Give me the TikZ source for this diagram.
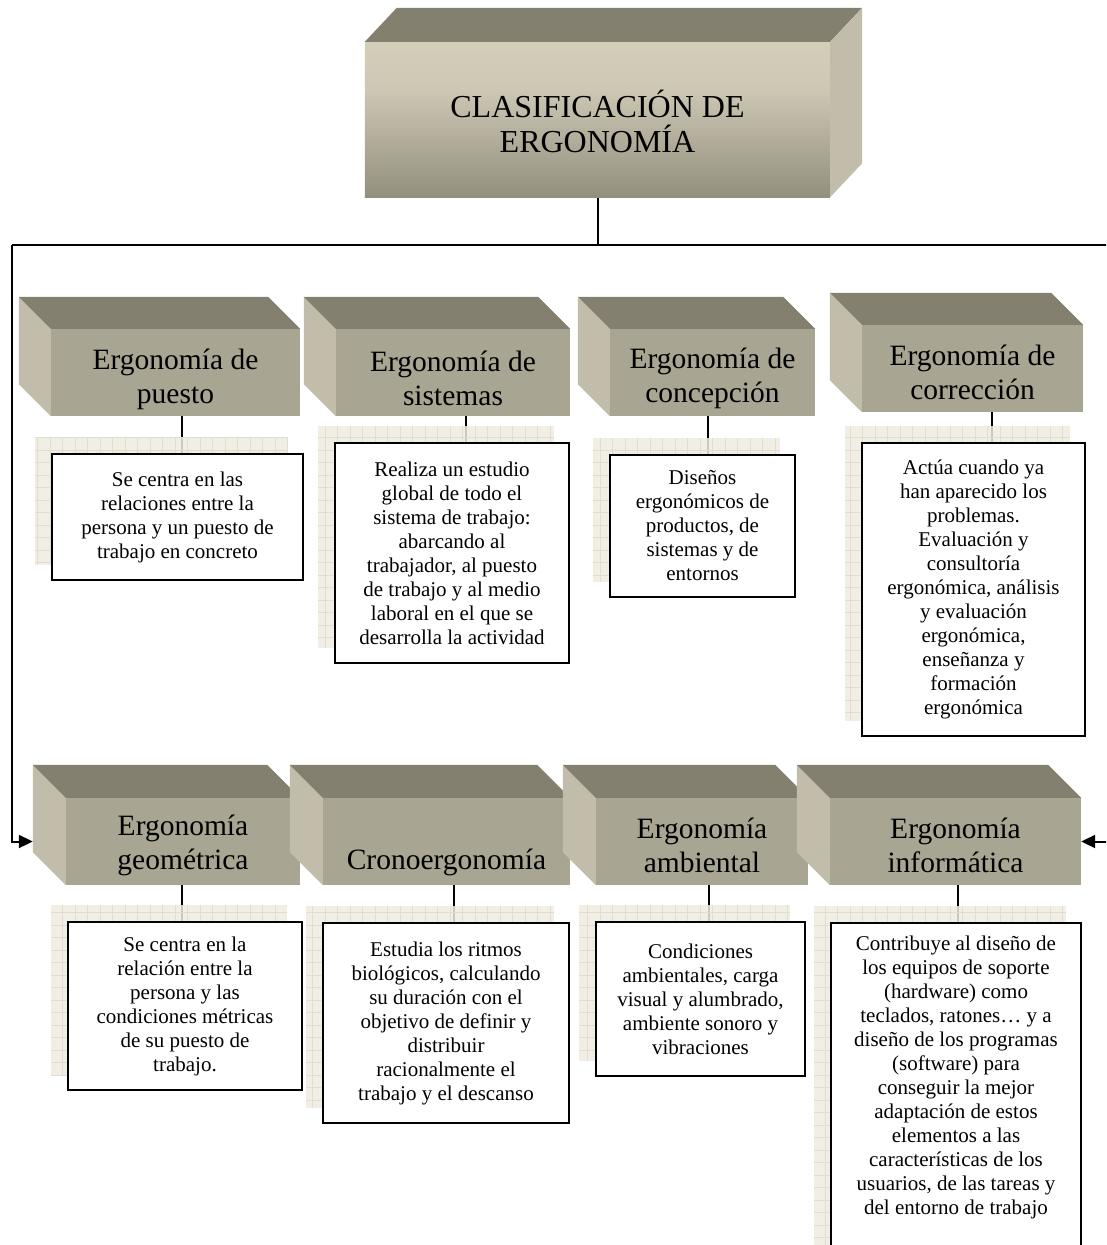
\documentclass[tikz,border=0pt]{standalone}
\usepackage{fontspec}
\setmainfont{Liberation Serif}
\usetikzlibrary{arrows.meta}

% palette
\definecolor{topface}{RGB}{131,128,112}
\definecolor{sideface}{RGB}{194,189,170}
\definecolor{frontface}{RGB}{168,165,147}
\definecolor{gridbg}{RGB}{238,236,225}
\definecolor{gridln}{RGB}{226,222,207}
\definecolor{hdark}{RGB}{104,101,88}
\definecolor{hmid}{RGB}{152,148,130}
\definecolor{hlite}{RGB}{205,200,180}
\definecolor{htop}{RGB}{223,217,197}

% front face of the heading block: dark at the bottom, light at the top
\pgfdeclareverticalshading{headface}{100bp}{%
  color(0bp)=(hdark); color(28bp)=(hmid); color(60bp)=(hlite); color(100bp)=(htop)}

\pgfdeclarelayer{links}
\pgfdeclarelayer{grids}
\pgfsetlayers{links,grids,main}

\tikzset{
  catface/.style={fill=frontface, inner sep=0pt},
  cattext/.style={inner sep=0pt, align=center,
    font=\fontsize{29.5}{34}\selectfont},
  descnode/.style={draw=black, line width=2pt, fill=white, inner sep=0pt,
    align=center, font=\fontsize{21}{24}\selectfont},
  desctext/.style={inner sep=0pt, align=center, font=\fontsize{21}{24}\selectfont},
  conn/.style={line width=2pt, draw=black},
  gridshadow/.style={fill=gridbg, fill opacity=0.85},
  gridlines/.style={draw=gridln, line width=0.8pt},
}

% block with its depth drawn up and to the left
% #1 name, #2 cx, #3 cy, #4 width, #5 depth, #6 text drop, #7 text
\newcommand\catbox[7]{%
  \node[catface, minimum width=#4pt, minimum height=87pt] (#1) at (#2,#3) {};
  \fill[sideface] (#1.north west) -- ++(-#5,-#5)
      -- ([shift={(-#5,-#5)}]#1.south west) -- (#1.south west) -- cycle;
  \fill[topface] (#1.north west) -- ++(-#5,-#5)
      -- ([shift={(-#5,-#5)}]#1.north east) -- (#1.north east) -- cycle;
  \node[cattext] (#1t) at ([shift={(0,#6)}]#1.center) {#7};
}

% squared backdrop behind a text box
\newcommand\backdrop[1]{%
  \begin{pgfonlayer}{grids}
    \fill[gridshadow] ([shift={(-16,-16)}]#1.north west)
        rectangle ([shift={(-16,-16)}]#1.south east);
    \begin{scope}
      \clip ([shift={(-16,-16)}]#1.north west)
        rectangle ([shift={(-16,-16)}]#1.south east);
      \draw[gridlines, step=12.5pt] ([shift={(-16,-16)}]#1.north west)
        grid ([shift={(-16,-16)}]#1.south east);
    \end{scope}
  \end{pgfonlayer}
}

% text box: #1 name, #2 cx, #3 cy, #4 width, #5 height, #6 text
\newcommand\descbox[6]{%
  \node[descnode, minimum width=#4pt, minimum height=#5pt] (#1) at (#2,#3) {#6};
  \backdrop{#1}
}

\begin{document}
\begin{tikzpicture}[x=1pt,y=-1pt]
\useasboundingbox (0,0) rectangle (1106,1245);
\clip (0,0) rectangle (1106,1245);

% heading block, depth up and to the right
\node[inner sep=0pt, minimum width=465pt, minimum height=155pt] (t) at (597.5,119.5) {};
\shade[shading=headface] (t.north west) rectangle (t.south east);
\fill[topface] (t.north west) -- ++(32,-34) -- ([shift={(32,-34)}]t.north east)
    -- (t.north east) -- cycle;
\fill[sideface] (t.north east) -- ++(32,-34) -- ([shift={(32,-34)}]t.south east)
    -- (t.south east) -- cycle;
\node[align=center, font=\fontsize{32}{35}\selectfont] (tt) at ([shift={(0,2)}]t.center)
    {CLASIFICACIÓN DE\\ERGONOMÍA};

% first row of blocks
\catbox{b1}{175.5}{372.5}{249}{32}{7}{Ergonomía de\\puesto}
\catbox{b2}{453}{372.5}{234}{32}{6}{Ergonomía de\\sistemas}
\catbox{b3}{712.5}{372.5}{205}{32}{6}{Ergonomía de\\concepción}
\catbox{b4}{972.5}{368.5}{221}{32}{4}{Ergonomía de\\corrección}

% second row of blocks
\catbox{b5}{183}{841.5}{234}{33}{4}{Ergonomía\\geométrica}
\catbox{b6}{446.5}{841.5}{247}{33}{21}{Cronoergonomía}
\catbox{b7}{702}{841.5}{212}{33}{4}{Ergonomía\\ambiental}
\catbox{b8}{955.5}{841.5}{251}{33}{4}{Ergonomía\\informática}

% descriptions, first row
\descbox{d1}{177.5}{517}{251}{126}{Se centra en las\\relaciones entre la\\persona y un puesto de\\trabajo en concreto}
\descbox{d2}{452}{553}{234}{220}{Realiza un estudio\\global de todo el\\sistema de trabajo:\\abarcando al\\trabajador, al puesto\\de trabajo y al medio\\laboral en el que se\\desarrolla la actividad}
\descbox{d3}{702.5}{526}{185}{142}{Diseños\\ergonómicos de\\productos, de\\sistemas y de\\entornos}
\descbox{d4}{973.5}{589.5}{223}{293}{Actúa cuando ya\\han aparecido los\\problemas.\\Evaluación y\\consultoría\\ergonómica, análisis\\y evaluación\\ergonómica,\\enseñanza y\\formación\\ergonómica}

% descriptions, second row
\descbox{d5}{185}{1006}{234}{168}{Se centra en la\\relación entre la\\persona y las\\condiciones métricas\\de su puesto de\\trabajo.}
\descbox{d6}{446}{1023}{246}{200}{Estudia los ritmos\\biológicos, calculando\\su duración con el\\objetivo de definir y\\distribuir\\racionalmente el\\trabajo y el descanso}
\descbox{d7}{700.5}{999}{209}{154}{Condiciones\\ambientales, carga\\visual y alumbrado,\\ambiente sonoro y\\vibraciones}
% the last box runs past the lower edge; its text hangs from the top
\node[descnode, minimum width=250pt, minimum height=340pt] (d8) at (956,1093) {};
\backdrop{d8}
\node[desctext, anchor=north] (d8t) at ([shift={(0,14)}]d8.north)
  {Contribuye al diseño de\\los equipos de soporte\\(hardware) como\\teclados, ratones… y a\\diseño de los programas\\(software) para\\conseguir la mejor\\adaptación de estos\\elementos a las\\características de los\\usuarios, de las tareas y\\del entorno de trabajo};

% connectors
\begin{pgfonlayer}{links}
  \begin{scope}
    \clip (0,0) rectangle (1106,1245);
    \coordinate (jl) at (12,245);
    \coordinate (jr) at (1108,245);
    \draw[conn] (t.south) -- (t.south |- jl);
    \draw[conn] (jl) -- (jr);
    \draw[conn, -{Triangle[length=14pt,width=13pt]}] (jl) |- ([xshift=-33pt]b5.west);
    \draw[conn, -{Triangle[length=14pt,width=13pt]}] (jr) |- (b8.east);
    \draw[conn] ([xshift=6.5pt]b1.south) -- ([xshift=6.5pt]b1.south |- d1.north);
    \draw[conn] ([xshift=13pt]b2.south) -- ([xshift=13pt]b2.south |- d2.north);
    \draw[conn] ([xshift=-4.5pt]b3.south) -- ([xshift=-4.5pt]b3.south |- d3.north);
    \draw[conn] ([xshift=19.5pt]b4.south) -- ([xshift=19.5pt]b4.south |- d4.north);
    \draw[conn] ([xshift=-1pt]b5.south) -- ([xshift=-1pt]b5.south |- d5.north);
    \draw[conn] ([xshift=7.5pt]b6.south) -- ([xshift=7.5pt]b6.south |- d6.north);
    \draw[conn] ([xshift=7pt]b7.south) -- ([xshift=7pt]b7.south |- d7.north);
    \draw[conn] ([xshift=2.5pt]b8.south) -- ([xshift=2.5pt]b8.south |- d8.north);
  \end{scope}
\end{pgfonlayer}
\end{tikzpicture}
\end{document}
